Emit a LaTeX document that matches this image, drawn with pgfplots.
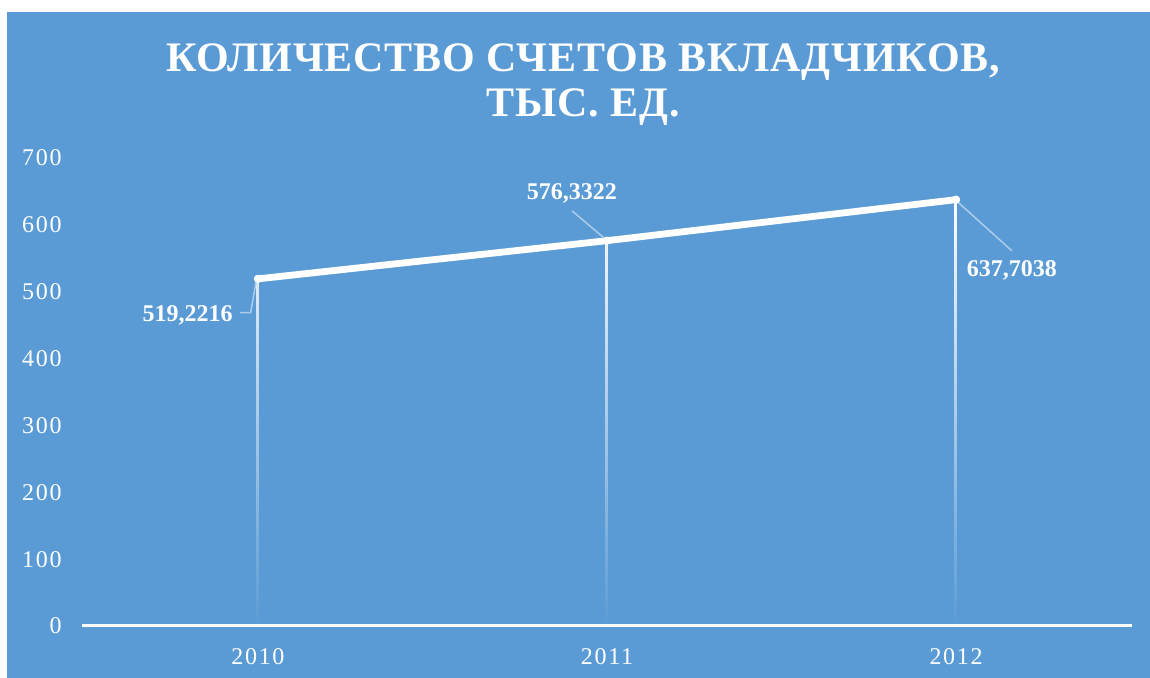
\documentclass[border=0pt]{standalone}
\usepackage{pgfplots}
\pgfplotsset{compat=1.18}
\usepackage{fontspec}
\setmainfont{Liberation Serif}
\newfontfamily\titlefont[LetterSpace=2]{Liberation Serif}
\newfontfamily\tickfont[LetterSpace=7]{Liberation Serif}
\newfontfamily\labfont{Liberation Serif}
\usetikzlibrary{fadings}
\definecolor{bg}{HTML}{5B9BD5}
\definecolor{leader}{HTML}{ADCCEA}
\tikzfading[name=dropfade, top color=transparent!0, middle color=transparent!20, bottom color=transparent!100]
\begin{document}
\begin{tikzpicture}
\begin{scope}[x=0.5pt,y=0.5pt]
\path[use as bounding box] (0,0) rectangle (1150,678);
\fill[white] (0,0) rectangle (1150,678);
\fill[bg] (7,0) rectangle (1150,666);
\node[text=white, anchor=base, inner sep=0pt, font=\titlefont\bfseries\fontsize{21}{24}\selectfont] at (583,606) {КОЛИЧЕСТВО СЧЕТОВ ВКЛАДЧИКОВ,};
\node[text=white, anchor=base, inner sep=0pt, font=\titlefont\bfseries\fontsize{21}{24}\selectfont] at (583,561) {ТЫС. ЕД.};
\end{scope}
\begin{axis}[
  at={(41pt,26pt)}, anchor=south west,
  scale only axis, width=525pt, height=234pt,
  xmin=-0.504, xmax=2.504, ymin=0, ymax=700,
  axis x line*=bottom, axis y line*=left,
  x axis line style={white, line width=1.5pt, -},
  y axis line style={draw=none},
  xtick={0,1,2}, xticklabels={2010,2011,2012},
  ytick={0,100,...,700},
  /pgf/number format/assume math mode=true,
  tick style={draw=none}, major tick length=0pt,
  xticklabel style={text=white, font=\tickfont\fontsize{12}{14}\selectfont, anchor=north, inner sep=0pt, yshift=-11pt},
  yticklabel style={text=white, font=\tickfont\fontsize{12}{14}\selectfont, anchor=east, inner sep=0pt, xshift=-10pt},
  clip=false,
]
\addplot[ycomb, white, line width=1.5pt, path fading=dropfade] coordinates {(0,519.2216) (1,576.3322) (2,637.7038)};
\addplot[white, line width=3.4pt, line join=round, mark=*, mark size=1.8pt, mark options={fill=white, draw=white, line width=0.5pt}] coordinates {(0,519.2216) (1,576.3322) (2,637.7038)};
\draw[leader, line width=0.75pt] (axis cs:-0.0516,468.6) -- (axis cs:-0.021,468.6) -- (axis cs:-0.005,516);
\draw[leader, line width=0.75pt] (axis cs:0.8997,621) -- (axis cs:0.997,578);
\draw[leader, line width=0.75pt] (axis cs:2.003,635) -- (axis cs:2.1596,561.3);
\node[text=white, anchor=east, inner sep=0pt, font=\labfont\bfseries\fontsize{12}{14}\selectfont] at (axis cs:-0.0716,464) {519,2216};
\node[text=white, anchor=center, inner sep=0pt, font=\labfont\bfseries\fontsize{12}{14}\selectfont] at (axis cs:0.8997,647.6) {576,3322};
\node[text=white, anchor=center, inner sep=0pt, font=\labfont\bfseries\fontsize{12}{14}\selectfont] at (axis cs:2.16,532.5) {637,7038};
\end{axis}
\end{tikzpicture}
\end{document}
